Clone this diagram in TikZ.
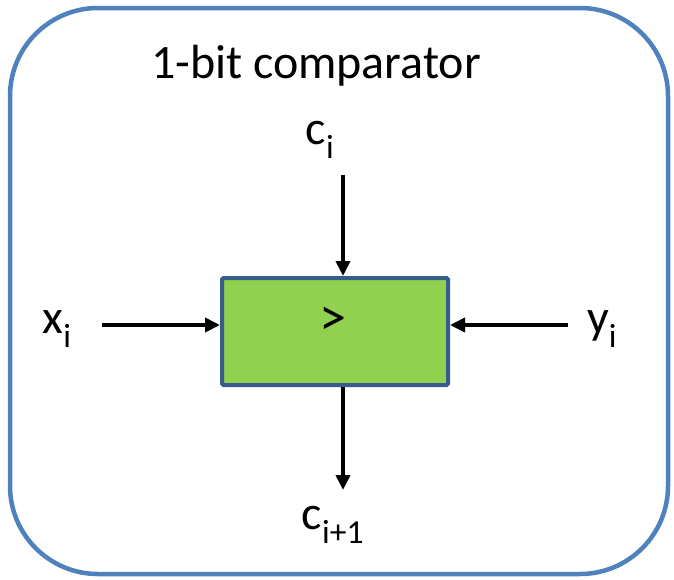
\documentclass[tikz,border=0pt]{standalone}
\usepackage{fontspec}
\setmainfont{Carlito}
\usetikzlibrary{arrows.meta}
\definecolor{frameblue}{HTML}{4F81BD}
\definecolor{boxedge}{HTML}{385D8A}
\definecolor{boxfill}{HTML}{92D050}
\tikzset{
  frame/.style={draw=frameblue, line width=4.5pt, rounded corners=88pt},
  cmpbox/.style={draw=boxedge, fill=boxfill, line width=4pt, rounded corners=1.5pt,
    minimum width=226pt, minimum height=107pt, inner sep=0pt},
  sig/.style={font=\fontsize{48}{56}\selectfont, inner sep=0pt},
  wire/.style={line width=4pt, -{Triangle[length=15pt,width=14pt]}}
}
\begin{document}
\begin{tikzpicture}[x=1pt,y=-1pt]
  \useasboundingbox (0,0) rectangle (674,579);
  \draw[frame] (10,8) rectangle (668,574);
  \node[sig] (title) at (316,66) {1-bit comparator};
  \node[cmpbox] (cmp) at (335,331.5) {};
  \node[sig, font=\fontsize{54}{60}\selectfont] (gt) at (333,321) {>};
  \node[sig] (ci) at (320,140) {c\textsubscript{i}};
  \node[sig] (xi) at (57,329) {x\textsubscript{i}};
  \node[sig] (yi) at (602,329) {y\textsubscript{i}};
  \node[sig] (co) at (333,525) {c\textsubscript{i+1}};
  \coordinate (ctop) at (343,175);
  \coordinate (xin) at (102,325);
  \coordinate (yin) at (568,325);
  \coordinate (cbot) at (343,490);
  \draw[wire] (ctop) -- (ctop |- cmp.north);
  \draw[wire] (xin) -- (cmp.west |- xin);
  \draw[wire] (yin) -- (cmp.east |- yin);
  \draw[wire] (cbot |- cmp.south) -- (cbot);
\end{tikzpicture}
\end{document}
